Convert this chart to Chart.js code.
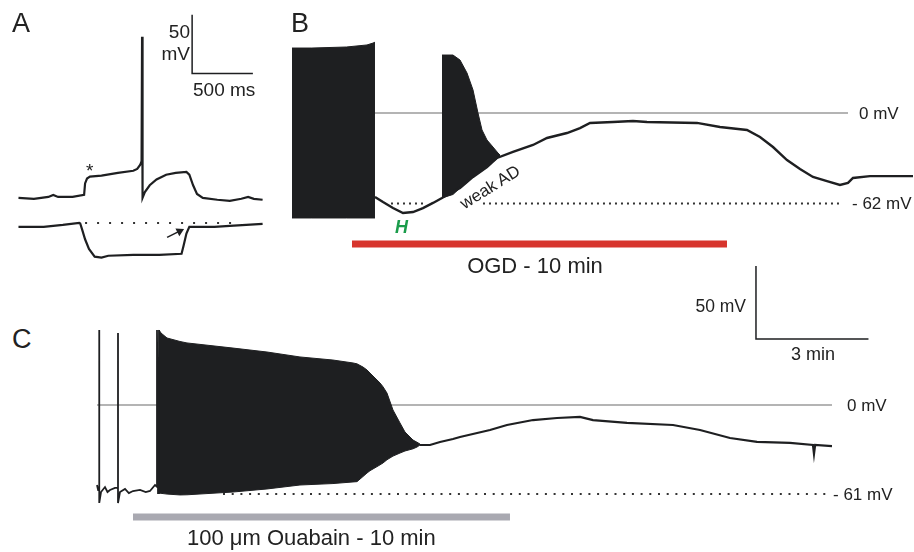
<!DOCTYPE html>
<html>
<head>
<meta charset="utf-8">
<script src="https://cdn.jsdelivr.net/npm/chart.js@4.4.1/dist/chart.umd.min.js"></script>
<style>
  html, body { margin: 0; padding: 0; background: #fff; }
  #fig { position: relative; width: 914px; height: 552px; overflow: hidden;
         font-family: "Liberation Sans", Arial, sans-serif; color: #222; }
  .panel { position: absolute; }
  .t { position: absolute; line-height: 1; white-space: nowrap; transform: translateY(-50%); }
</style>
</head>
<body>
<div id="fig">
  <div class="panel" style="left:0;top:0;width:280px;height:280px"><canvas id="chartA"></canvas></div>
  <div class="panel" style="left:277px;top:30px;width:637px;height:230px"><canvas id="chartB"></canvas></div>
  <div class="panel" style="left:82px;top:255px;width:832px;height:297px"><canvas id="chartC"></canvas></div>

  <div class="t" style="left:12px;top:23px;font-size:27px">A</div>
  <div class="t" style="left:291px;top:23px;font-size:27px">B</div>
  <div class="t" style="left:12px;top:339px;font-size:27px">C</div>

  <div class="t" style="right:724px;top:31px;font-size:19px">50</div>
  <div class="t" style="right:724px;top:53px;font-size:19px">mV</div>
  <div class="t" style="left:193px;top:89px;font-size:19px">500 ms</div>
  <div class="t" style="left:86px;top:170px;font-size:19px">*</div>

  <div class="t" style="left:859px;top:113px;font-size:17px">0 mV</div>
  <div class="t" style="left:852px;top:203px;font-size:17px">- 62 mV</div>
  <div class="t" style="left:395px;top:227px;font-size:18px;font-weight:bold;font-style:italic;color:#1b9c4b">H</div>
  <div class="t" style="left:490px;top:187px;font-size:17px;transform:translate(-50%,-50%) rotate(-32deg)">weak AD</div>
  <div class="t" style="left:535px;top:266px;font-size:22px;transform:translate(-50%,-50%)">OGD - 10 min</div>

  <div class="t" style="right:168px;top:307px;font-size:17.5px">50 mV</div>
  <div class="t" style="left:813px;top:354px;font-size:18px;transform:translate(-50%,-50%)">3 min</div>
  <div class="t" style="left:847px;top:405px;font-size:17px">0 mV</div>
  <div class="t" style="left:833px;top:494px;font-size:17px">- 61 mV</div>
  <div class="t" style="left:187px;top:538px;font-size:22px">100 &mu;m Ouabain - 10 min</div>
</div>

<script>
// ---- panel A (time in ms, membrane potential in mV, two sweeps) ----
const aUpT = [111, 238, 357, 397, 437, 556, 651, 659, 675, 699, 794, 929, 1056, 1088, 1112, 1124, 1128, 1132,
              1151, 1191, 1247, 1326, 1405, 1493, 1517, 1548, 1580, 1628, 1747, 1850, 1945, 2001, 2048, 2120];
const aUpV = [-70, -70.8, -69.2, -67.5, -69.2, -69.2, -67.5, -57.7, -53.6, -52, -51.1, -48.7, -47, -45.4, -42.1, -38.9, 66.9, -70,
              -65.1, -59.3, -54.4, -50.3, -48.7, -47.9, -50.3, -59.3, -66.7, -70, -71.6, -72.5, -70.8, -69.2, -70.8, -71.6];
const aLoT = [111, 318, 476, 611, 619, 635, 659, 691, 738, 794, 850, 1056, 1270, 1453, 1469, 1493, 1517, 1588, 1723, 1850, 1985, 2120];
const aLoV = [-94.6, -94.6, -93, -91.3, -91.8, -97, -105.2, -113.4, -120, -120.8, -119.2, -118.4, -118.4, -117.5, -111, -100.3,
              -94.6, -94.6, -94.6, -93.8, -93, -92.1];
const aRest = -91.3;          // dotted reference level
const aRestT = [659, 1905];
const aArrowT = [1334, 1437];
const aArrowV = [-103.6, -98.3];
const aBarT = [1540, 1540, 2040];   // 50 mV / 500 ms
const aBarV = [85.7, 35.7, 35.7];

// ---- panel B (time in min, mV) ----
const bTraceT = [2.213, 2.427, 2.693, 2.96, 3.227, 3.493, 3.76, 4.0, 4.133, 4.48, 4.827, 5.2, 5.467, 5.893, 6.427, 6.8,
                 7.333, 7.68, 7.947, 8.56, 9.093, 9.467, 10.8, 11.413, 12.133, 12.48, 12.827, 13.2, 13.547, 13.893,
                 14.267, 14.613, 14.827, 14.96, 15.413, 16.56];
const bTraceV = [-57.5, -61, -65.1, -68.5, -67.8, -65.1, -61.6, -58.2, -56.2, -51.4, -43.8, -37, -30.8, -26.7, -21.9, -17.1,
                 -13.7, -10.3, -6.8, -6.2, -5.5, -6.2, -6.8, -9.6, -11.6, -16.4, -23.3, -32.2, -38.4, -43.8,
                 -46.6, -49.3, -47.9, -44.5, -43.2, -43.2];
const bBurst1T = [0, 0.53, 1.45, 2.0, 2.16, 2.213];
const bBurst1Top = [44.5, 44.5, 45.2, 46.6, 47.9, 48.5];
const bBurst1Bot = [-71.9, -71.9, -71.9, -71.9, -71.9, -71.9];
const bBurst2T = [4.0, 4.293, 4.48, 4.667, 4.827, 4.96, 5.067, 5.2, 5.36, 5.493, 5.547];
const bBurst2Top = [39.7, 39.7, 36.3, 27.4, 15.8, 0, -11.6, -18.5, -23.3, -27.4, -28.8];
const bBurst2Bot = [-58.2, -55.8, -51.4, -47.6, -43.8, -41.5, -39.4, -37, -33.5, -30.8, -29.5];
const bZeroT = [2.213, 14.827];
const bRest = -62;
const bRestSegs = [[2.64, 3.547], [5.093, 14.693]];
const bOgdT = [1.6, 11.6];   // 10 min OGD
const bOgdV = -89.7;

// ---- panel C (time in min, mV) ----
const cPreT = [0, 0.03, 0.06, 0.06, 0.06, 0.107, 0.213, 0.28, 0.347, 0.48, 0.56, 0.56, 0.56, 0.613, 0.747, 0.85, 0.96,
               1.147, 1.3, 1.413, 1.547, 1.6, 1.6, 1.627, 1.653];
const cPreV = [-54.8, -58.2, -58.2, 51.4, -67.1, -59.6, -56.2, -59.6, -58.2, -56.8, -56.8, 49.3, -67.1, -59.6, -57.5, -60.3, -58.9,
               -58.2, -59.6, -58.9, -54.8, -56, 51.4, -60.3, 51.4];
const cBurstT = [1.653, 1.707, 1.867, 2.213, 2.4, 3.627, 4.533, 5.413, 6.293, 6.827, 6.933, 7.093, 7.2, 7.28, 7.547,
                 7.627, 7.733, 7.893, 8.08, 8.213, 8.427, 8.533, 8.613];
const cBurstTop = [51.4, 49.3, 45.9, 43.5, 42.5, 39.0, 36.3, 32.9, 30.8, 28.8, 28.2, 26.0, 24.0, 21.9, 15.1,
                   12.5, 8.2, -3.4, -12.3, -18.5, -24.0, -25.5, -26.7];
const cBurstBot = [-60.3, -60.5, -61, -61.6, -61.5, -59.6, -57.5, -54.8, -53.8, -52.7, -52.5, -49, -46.6, -45, -41,
                   -39.7, -37.5, -35, -32.9, -31.5, -30, -28.8, -27.4];
const cPostT = [8.613, 8.88, 9.147, 9.493, 9.68, 10.48, 10.933, 11.627, 12.267, 12.88, 13.227, 14.133, 15.36, 16.08,
                16.88, 17.6, 18.48, 19.093, 19.12, 19.15, 19.6];
const cPostV = [-27.4, -27.4, -25.3, -23.3, -21.9, -17.1, -13.7, -10.3, -8.9, -8.2, -10.3, -12.3, -13.7, -17.1,
                -22.6, -25.3, -26.0, -27.4, -33.5, -27.4, -28.1];
const cZeroT = [0, 19.6];
const cRest = -61;
const cRestT = [3.36, 19.547];
const cOuabT = [0.96, 11.013];
const cOuabV = -76.7;
const cBarT = [17.573, 17.573, 20.573];  // 50 mV / 3 min
const cBarV = [95.2, 45.2, 45.2];

const INK = '#1e1f21';
const GRID = '#9b9b9b';

function pts(xs, ys) {
  return xs.map((x, i) => ({ x: x, y: Array.isArray(ys) ? ys[i] : ys }));
}

function line(data, color, width, extra) {
  return Object.assign({
    data: data, borderColor: color, borderWidth: width, pointRadius: 0,
    fill: false, tension: 0, clip: false, borderJoinStyle: 'miter'
  }, extra || {});
}

function burst(xs, top, bot) {
  return [
    line(pts(xs, top), INK, 1),
    line(pts(xs, bot), INK, 1, { fill: '-1', backgroundColor: INK })
  ];
}

function makeChart(id, xMin, xMax, yMin, yMax, datasets) {
  return new Chart(document.getElementById(id), {
    type: 'line',
    data: { datasets: datasets },
    options: {
      responsive: true,
      maintainAspectRatio: false,
      animation: false,
      events: [],
      layout: { padding: 0 },
      plugins: { legend: { display: false }, tooltip: { enabled: false } },
      scales: {
        x: { type: 'linear', min: xMin, max: xMax, display: false },
        y: { type: 'linear', min: yMin, max: yMax, display: false }
      }
    }
  });
}

// first dataset is drawn on top
makeChart('chartA', 0, 2222, -135.57, 93.93, [
  line(pts(aUpT, aUpV), INK, 2.2),
  line(pts(aLoT, aLoV), INK, 2.2),
  line(pts(aArrowT, aArrowV), INK, 1.5, {
    pointRadius: [0, 5], pointStyle: 'triangle', pointRotation: 63.4,
    pointBackgroundColor: INK, pointBorderColor: INK, pointBorderWidth: 0
  }),
  line(pts(aBarT, aBarV), INK, 1.5),
  line(pts(aRestT, aRest), '#333', 2, { borderDash: [2, 10] })
]);

makeChart('chartB', -0.4, 16.587, -100.68, 56.85, [
  line(pts(bTraceT, bTraceV), INK, 2.4),
  ...burst(bBurst1T, bBurst1Top, bBurst1Bot),
  ...burst(bBurst2T, bBurst2Top, bBurst2Bot),
  line(pts(bZeroT, 0), GRID, 1.3),
  ...bRestSegs.map(s => line(pts(s, bRest), '#333', 2, { borderDash: [2, 4] })),
  line(pts(bOgdT, bOgdV), '#d7352d', 7, { borderCapStyle: 'butt' })
]);

makeChart('chartC', -0.4, 21.787, -100.68, 102.74, [
  line(pts(cPreT, cPreV), INK, 1.8),
  line(pts(cPostT, cPostV), INK, 2.2),
  ...burst(cBurstT, cBurstTop, cBurstBot),
  line(pts(cBarT, cBarV), INK, 1.5),
  line(pts(cZeroT, 0), GRID, 1.3),
  line(pts(cRestT, cRest), '#333', 2, { borderDash: [2, 6.7] }),
  line(pts(cOuabT, cOuabV), '#a9a9b1', 7, { borderCapStyle: 'butt' })
]);
</script>
</body>
</html>
